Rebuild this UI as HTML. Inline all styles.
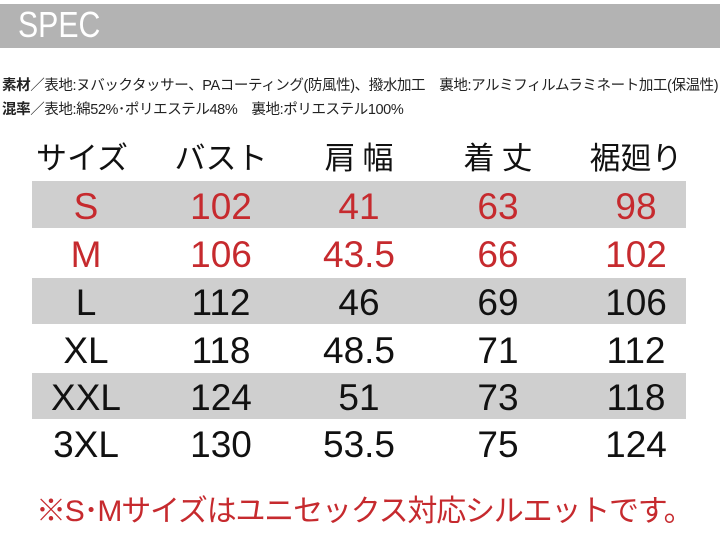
<!DOCTYPE html>
<html><head><meta charset="utf-8"><style>
*{margin:0;padding:0;box-sizing:border-box}
body{width:720px;height:533px;background:#fff;position:relative;overflow:hidden;font-family:"Liberation Sans","Noto Sans CJK JP",sans-serif;color:#111}
.bar{position:absolute;left:0;top:4px;width:720px;height:44px;background:#b3b3b3}
.spec{position:absolute;left:18px;top:5px;color:#fff;font-size:36px;line-height:40px;transform:scaleX(0.84);transform-origin:left}
.mat{position:absolute;left:2px;font-size:14.5px;white-space:nowrap;color:#222;letter-spacing:-0.4px}
.mat b{font-weight:bold}
.band{position:absolute;left:32px;width:654px;background:#cfcfcf}
.c{position:absolute;transform:translateX(-50%);white-space:nowrap;line-height:1}
.h{font-size:31px;font-family:"Noto Sans CJK JP",sans-serif;font-weight:400}
.v{font-size:37px}
.r{color:#c62a2e}
.foot{position:absolute;left:36px;top:486px;font-size:30px;color:#c62a2e;white-space:nowrap;font-family:"Liberation Sans","Noto Sans CJK JP",sans-serif;letter-spacing:-1.2px}
</style></head><body>
<div class="bar"></div><div class="spec">SPEC</div>
<div class="mat" style="top:74px"><b>素材</b>／表地:ヌバックタッサー、PAコーティング(防風性)、撥水加工　裏地:アルミフィルムラミネート加工(保温性)</div>
<div class="mat" style="top:98px"><b>混率</b>／表地:綿52%･ポリエステル48%　裏地:ポリエステル100%</div>
<div class="band" style="top:181px;height:47px"></div>
<div class="band" style="top:278px;height:46px"></div>
<div class="band" style="top:373px;height:46px"></div>
<div class="c h" style="left:82px;top:140px">サイズ</div>
<div class="c h" style="left:221px;top:140px">バスト</div>
<div class="c h" style="left:359px;top:140px">肩 幅</div>
<div class="c h" style="left:498px;top:140px">着 丈</div>
<div class="c h" style="left:636px;top:140px">裾廻り</div>
<div class="c v r" style="left:86px;top:188px">S</div><div class="c v r" style="left:221px;top:188px">102</div><div class="c v r" style="left:359px;top:188px">41</div><div class="c v r" style="left:498px;top:188px">63</div><div class="c v r" style="left:636px;top:188px">98</div>
<div class="c v r" style="left:86px;top:236px">M</div><div class="c v r" style="left:221px;top:236px">106</div><div class="c v r" style="left:359px;top:236px">43.5</div><div class="c v r" style="left:498px;top:236px">66</div><div class="c v r" style="left:636px;top:236px">102</div>
<div class="c v" style="left:86px;top:284px">L</div><div class="c v" style="left:221px;top:284px">112</div><div class="c v" style="left:359px;top:284px">46</div><div class="c v" style="left:498px;top:284px">69</div><div class="c v" style="left:636px;top:284px">106</div>
<div class="c v" style="left:86px;top:332px">XL</div><div class="c v" style="left:221px;top:332px">118</div><div class="c v" style="left:359px;top:332px">48.5</div><div class="c v" style="left:498px;top:332px">71</div><div class="c v" style="left:636px;top:332px">112</div>
<div class="c v" style="left:86px;top:379px">XXL</div><div class="c v" style="left:221px;top:379px">124</div><div class="c v" style="left:359px;top:379px">51</div><div class="c v" style="left:498px;top:379px">73</div><div class="c v" style="left:636px;top:379px">118</div>
<div class="c v" style="left:86px;top:426px">3XL</div><div class="c v" style="left:221px;top:426px">130</div><div class="c v" style="left:359px;top:426px">53.5</div><div class="c v" style="left:498px;top:426px">75</div><div class="c v" style="left:636px;top:426px">124</div>
<div class="foot">※S･Mサイズはユニセックス対応シルエットです。</div>
</body></html>
